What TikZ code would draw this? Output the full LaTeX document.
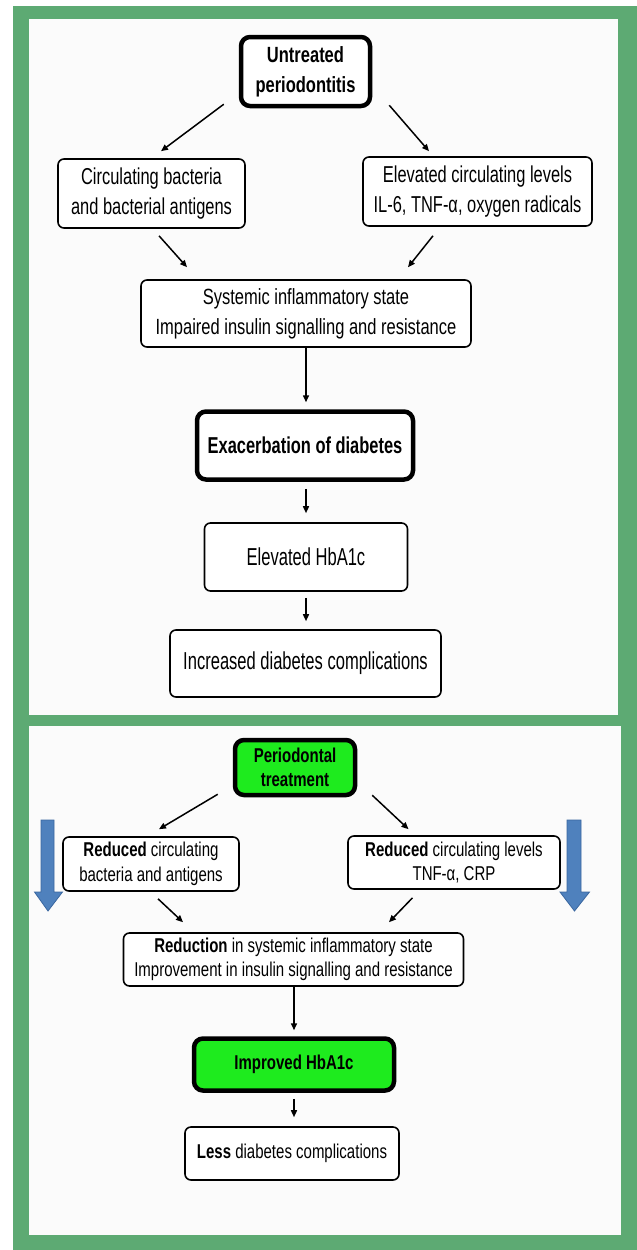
\documentclass[tikz,border=0pt]{standalone}
\usepackage{fontspec}
\setmainfont[FakeStretch=0.75]{Liberation Sans}
\newfontfamily\fntB[FakeStretch=0.715]{Liberation Sans}
\newfontfamily\fntC[FakeStretch=0.675]{Liberation Sans}
\usetikzlibrary{arrows.meta,calc}
\definecolor{frame}{HTML}{5DAA73}
\definecolor{panel}{HTML}{FBFBFB}
\definecolor{bright}{HTML}{1EEB1E}
\definecolor{blu}{HTML}{4F81BD}
\definecolor{bluedge}{HTML}{3A67A0}
\newcommand\topfnt{\fontsize{22}{30}\selectfont}
\newcommand\midfnt{\fntB\fontsize{23}{29.5}\selectfont}
\newcommand\bigfnt{\fntC\fontsize{24.5}{30}\selectfont}
\newcommand\botfnt{\fontsize{20}{24.5}\selectfont}
\begin{document}
\begin{tikzpicture}[x=1pt,y=-1pt,
  box/.style={draw=black, line width=1.6pt, rounded corners=6pt, fill=white,
    align=center, inner sep=0pt, text=black},
  heavybox/.style={box, line width=4.5pt, rounded corners=9pt},
  greenbox/.style={heavybox, fill=bright},
  topbox/.style={box, font=\topfnt},
  botbox/.style={box, font=\botfnt},
  arr/.style={-{Triangle[length=7pt,width=6pt]}, line width=1.5pt, black},
  bluearrow/.style={fill=blu, draw=bluedge, line width=0.8pt, line join=miter}
]
\useasboundingbox (0,0) rectangle (637,1250);
\fill[white] (0,0) rectangle (637,1250);
\fill[frame] (13,6) rectangle (637,1250);
\fill[panel] (28.5,19) rectangle (618,715);
\fill[panel] (28.5,726) rectangle (621,1235);

% ---------- top panel ----------
\node[heavybox, font=\topfnt\bfseries, minimum width=129pt, minimum height=69pt]
  (untreated) at (305.5,71.5) {Untreated\\periodontitis};
\node[box, font=\midfnt, minimum width=187pt, minimum height=69pt]
  (circ) at (151.5,193.5) {Circulating bacteria\\and bacterial antigens};
\node[box, font=\midfnt, minimum width=229pt, minimum height=69pt]
  (elev) at (477.5,191.5) {Elevated circulating levels\\IL-6, TNF-α, oxygen radicals};
\node[topbox, minimum width=330pt, minimum height=67pt]
  (sys) at (306,313.5) {Systemic inflammatory state\\Impaired insulin signalling and resistance};
\node[heavybox, font=\midfnt\bfseries, minimum width=216pt, minimum height=68pt]
  (exac) at (305,445.5) {Exacerbation of diabetes};
\node[box, font=\bigfnt, minimum width=203pt, minimum height=68pt]
  (hba) at (306,557) {Elevated HbA1c};
\node[box, font=\bigfnt, minimum width=271pt, minimum height=67pt]
  (incr) at (305.5,663.5) {Increased diabetes complications};

\draw[arr] ($(untreated.south west)+(-15,-4)$) -- ($(circ.north)+(9.5,-7)$);
\draw[arr] ($(untreated.south east)+(17,-3)$) -- ($(elev.north)+(-48.5,-5)$);
\draw[arr] ($(circ.south)+(7.5,7)$) -- ($(sys.north)+(-119,-12)$);
\draw[arr] ($(elev.south)+(-44.5,9)$) -- ($(sys.north)+(102,-12)$);
\draw[arr, shorten >=7pt] (sys.south) -- (sys.south |- exac.north);
\draw[arr, shorten <=7pt, shorten >=9pt] (exac.south -| hba.north) -- (hba.north);
\draw[arr, shorten <=6pt, shorten >=8pt] (hba.south) -- (hba.south |- incr.north);

% ---------- bottom panel ----------
\node[greenbox, font=\botfnt\bfseries, minimum width=120pt, minimum height=55pt]
  (perio) at (295,767.5) {Periodontal\\treatment};
\node[botbox, minimum width=176pt, minimum height=54pt]
  (redcirc) at (151,864) {\textbf{Reduced} circulating\\bacteria and antigens};
\node[botbox, minimum width=212pt, minimum height=53pt]
  (redlev) at (454,862.5) {\textbf{Reduced} circulating levels\\TNF-α, CRP};
\node[botbox, minimum width=340pt, minimum height=53pt]
  (reduct) at (293.5,959.5) {\textbf{Reduction} in systemic inflammatory state\\Improvement in insulin signalling and resistance};
\node[greenbox, font=\botfnt\bfseries, minimum width=200pt, minimum height=52pt]
  (imp) at (294,1064.5) {Improved HbA1c};
\node[botbox, minimum width=214pt, minimum height=53pt]
  (less) at (292,1153.5) {\textbf{Less} diabetes complications};

\draw[arr] ($(perio.south west)+(-15,-3)$) -- ($(redcirc.north)+(8,-7)$);
\draw[arr] ($(perio.south east)+(15,-2)$) -- ($(redlev.north)+(-45.5,-6)$);
\draw[arr] ($(redcirc.south)+(7,7)$) -- ($(reduct.north)+(-110.5,-10)$);
\draw[arr] ($(redlev.south)+(-41.5,8)$) -- ($(reduct.north)+(95.5,-10)$);
\draw[arr, shorten >=6pt] (reduct.south -| imp.north) -- (imp.north);
\draw[arr, shorten <=6pt, shorten >=9pt] (imp.south) -- (imp.south |- less.north);

% blue side arrows
\draw[bluearrow] (41,820) -- (54,820) -- (54,892) -- (62.5,892) -- (48,911)
  -- (34.5,892) -- (41,892) -- cycle;
\draw[bluearrow] (567,820) -- (581,820) -- (581,892) -- (589.5,892) -- (574.5,911)
  -- (560,892) -- (567,892) -- cycle;
\end{tikzpicture}
\end{document}
